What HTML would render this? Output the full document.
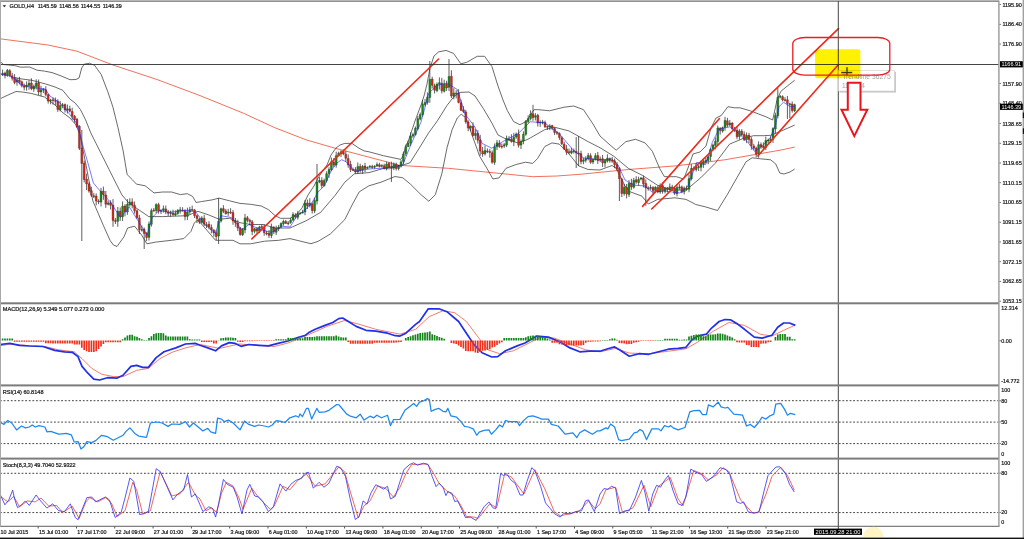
<!DOCTYPE html>
<html><head><meta charset="utf-8"><title>GOLD,H4</title>
<style>html,body{margin:0;padding:0;background:#fff;width:1024px;height:539px;overflow:hidden}</style>
</head><body>
<svg width="1024" height="539" viewBox="0 0 1024 539" style="display:block">
<rect x="0" y="0" width="1024" height="539" fill="#ffffff"/>
<g fill="none" stroke-linejoin="round">
<polyline points="0.0,38.8 48.0,45.0 77.0,51.2 113.0,65.0 157.0,79.5 200.0,95.6 243.4,113.2 274.8,127.7 306.0,139.8 335.0,148.2 376.0,159.0 400.0,165.4 448.3,168.3 472.4,170.7 508.6,174.3 532.7,176.7 556.8,176.0 580.0,174.3 628.3,169.5 676.5,165.8 724.8,159.8 780.0,150.2 794.7,147.1" stroke="#f0604a" stroke-width="0.9"/>
<polyline points="0.0,61.4 3.6,64.5 14.5,65.6 20.8,67.2 29.7,67.0 37.0,70.2 44.5,71.1 52.0,72.6 60.0,75.5 70.0,79.7 76.0,79.5 79.1,77.9 81.7,68.0 84.3,64.1 89.5,63.3 94.7,65.4 101.2,74.5 107.7,91.4 112.9,107.0 118.0,127.7 123.2,151.1 127.1,174.5 132.3,179.7 136.4,184.1 145.2,185.8 154.0,192.9 162.7,192.0 171.5,192.0 180.3,194.6 187.3,193.7 192.6,196.4 196.1,202.5 201.4,201.6 212.0,199.9 219.0,198.1 229.5,200.8 240.0,203.4 250.6,204.3 261.2,206.0 268.2,209.5 275.2,215.7 280.5,218.3 290.0,218.3 296.0,215.0 302.0,208.0 308.0,195.0 314.0,186.0 318.0,178.0 322.0,172.0 327.0,165.0 331.0,155.0 336.0,148.0 340.0,145.0 344.8,143.4 352.0,143.4 359.0,148.2 364.0,150.9 369.0,151.8 383.4,155.7 400.8,159.4 403.0,156.0 406.0,146.0 409.0,139.0 412.0,130.0 415.0,121.0 418.0,113.0 421.0,105.0 424.0,96.0 427.0,84.0 430.0,68.0 434.0,56.0 438.6,51.9 446.0,50.4 453.5,53.4 460.9,63.8 466.8,62.3 477.2,56.3 484.6,56.3 492.0,66.7 498.0,86.0 503.0,100.0 507.3,110.5 513.5,121.5 519.9,124.7 526.2,121.5 534.0,109.7 537.5,109.6 549.6,110.8 564.0,107.2 573.7,106.0 583.4,109.6 593.0,124.0 600.0,136.0 609.0,144.1 616.2,150.2 625.8,141.7 635.5,139.3 645.1,142.9 652.4,151.4 659.6,168.3 664.4,176.7 676.5,176.7 683.7,179.1 688.0,168.0 693.0,154.0 700.0,152.0 706.0,146.0 711.0,128.0 716.0,118.0 721.2,115.6 727.9,106.7 734.5,107.8 740.0,107.8 750.2,110.8 758.4,113.9 766.5,117.0 772.7,120.0 777.0,100.0 780.8,91.4 787.0,86.3 794.7,80.2" stroke="#3a3a3a" stroke-width="0.75"/>
<polyline points="14.5,77.5 22.0,79.0 31.4,80.2 45.8,84.0 55.0,87.0 62.7,90.3 70.0,99.2 75.2,103.0 80.4,109.5 85.6,119.9 90.8,132.9 96.0,143.3 101.2,153.7 109.0,169.3 116.8,184.9 122.0,195.0 127.6,201.6 134.6,206.9 148.7,216.6 162.7,216.6 187.3,215.7 197.9,211.3 208.4,214.8 219.0,219.2 229.5,218.3 240.0,222.7 250.6,224.5 262.9,224.5 275.2,228.0 290.0,228.0 306.0,220.8 320.6,212.4 335.0,195.5 344.8,182.2 354.4,173.8 369.0,172.6 385.0,168.0 395.0,166.0 403.0,165.0 410.0,162.8 419.3,148.0 428.5,133.1 437.8,120.2 447.0,105.4 454.4,96.1 460.0,92.4 469.0,92.0 475.0,96.0 483.2,108.3 492.0,123.2 498.0,135.0 507.0,139.5 518.2,143.0 527.9,139.3 544.8,129.6 554.4,127.2 568.9,130.9 588.2,141.7 600.0,147.7 613.8,156.2 628.3,168.3 642.7,175.5 657.2,185.1 671.7,190.0 686.2,190.0 700.6,177.9 715.1,163.4 729.6,144.1 744.0,138.1 753.7,135.7 763.4,135.7 770.6,135.3 780.8,131.2 794.7,125.1" stroke="#3a3a3a" stroke-width="0.75"/>
<polyline points="0.0,98.8 8.0,95.0 16.0,91.5 22.3,92.0 31.2,93.4 37.0,95.0 44.5,97.0 55.0,105.0 62.0,112.0 70.0,118.0 76.0,125.0 80.0,135.0 86.0,165.0 92.8,200.8 103.4,225.5 110.0,240.3 113.4,245.0 117.0,246.5 124.0,236.8 127.6,228.0 134.6,226.2 141.6,235.0 146.9,243.8 155.7,242.1 171.5,240.3 183.8,238.6 190.9,231.5 194.4,222.7 197.9,220.1 205.0,228.0 215.5,240.3 233.0,240.3 240.0,243.8 250.6,243.8 264.7,241.2 278.7,240.3 290.0,238.6 306.0,242.5 311.0,243.7 318.2,241.3 330.3,234.0 344.8,219.6 352.0,205.1 359.2,191.9 368.9,185.8 381.0,182.2 395.0,176.5 402.8,177.8 410.6,184.3 421.0,194.7 428.8,201.2 435.3,194.7 441.8,173.9 447.0,147.9 452.1,129.7 457.3,118.0 461.2,114.2 466.0,118.0 472.0,135.0 476.0,146.0 479.6,156.2 486.9,168.3 492.9,179.0 499.0,177.9 506.0,168.3 515.8,164.6 525.4,162.2 532.7,163.4 537.5,158.6 544.8,146.5 552.0,142.9 559.2,144.1 568.9,153.8 578.5,165.8 588.2,169.5 600.0,170.0 612.0,165.5 616.0,168.0 620.0,176.0 625.0,186.0 629.4,191.5 642.0,196.2 648.3,204.0 657.7,199.4 675.0,197.8 686.0,199.4 695.8,204.5 705.5,206.9 717.5,210.5 727.2,194.8 736.8,177.9 746.0,161.8 752.2,157.8 760.4,158.8 770.6,159.8 775.7,163.9 779.8,173.0 783.9,174.0 790.0,172.0 794.7,169.0" stroke="#3a3a3a" stroke-width="0.75"/>
</g>
<g>
<path d="M2.60 69.6V76.0M5.00 71.7V78.4M7.40 69.0V76.7M9.80 69.2V77.2M12.20 72.9V80.6M14.60 74.1V84.3M17.00 77.9V85.7M19.40 76.8V84.4M21.80 80.6V87.4M24.20 83.6V90.4M26.60 81.3V90.7M29.00 80.2V89.7M31.40 78.3V90.2M33.80 84.6V91.8M36.20 79.3V89.4M38.60 79.5V95.0M41.00 85.8V96.1M43.40 88.2V93.1M45.80 86.2V96.4M48.20 93.7V103.5M50.60 98.9V104.2M53.00 97.4V104.6M55.40 97.5V105.1M57.80 99.2V111.9M60.20 100.9V111.4M62.60 102.9V108.2M65.00 103.5V112.5M67.40 104.5V113.4M69.80 105.7V112.3M72.20 107.7V119.8M74.60 114.9V122.7M77.00 117.9V127.9M79.40 125.2V150.0M81.80 130.0V241.0M84.20 160.7V182.4M86.60 173.6V190.1M89.00 182.3V192.7M91.40 186.8V196.9M93.80 193.1V198.0M96.20 193.4V205.4M98.60 199.2V204.2M101.00 187.9V206.5M103.40 186.6V199.8M105.80 191.0V207.9M108.20 200.6V205.4M110.60 200.3V209.5M113.00 199.1V226.8M115.40 218.0V224.0M117.80 207.0V226.8M120.20 207.5V220.9M122.60 201.4V221.0M125.00 204.2V216.3M127.40 199.1V214.8M129.80 198.3V206.5M132.20 198.3V208.3M134.60 201.6V213.6M137.00 209.4V218.7M139.40 214.9V234.0M141.80 225.5V231.6M144.20 227.5V249.0M146.60 232.1V241.1M149.00 221.5V240.5M151.40 208.5V226.6M153.80 208.0V211.7M156.20 203.2V213.1M158.60 202.7V213.7M161.00 209.2V214.0M163.40 205.5V212.6M165.80 205.5V214.2M168.20 209.9V216.0M170.60 210.6V216.6M173.00 209.7V216.0M175.40 210.4V216.1M177.80 209.2V214.8M180.20 206.9V213.6M182.60 207.2V211.4M185.00 209.1V220.3M187.40 207.7V220.1M189.80 206.8V214.2M192.20 205.6V211.1M194.60 208.9V218.0M197.00 214.6V223.0M199.40 217.8V223.9M201.80 216.2V223.7M204.20 214.8V226.1M206.60 222.0V228.0M209.00 221.2V229.4M211.40 224.5V233.4M213.80 229.1V236.6M216.20 230.2V240.0M218.60 198.0V244.0M221.00 207.7V222.5M223.40 205.2V213.1M225.80 208.9V214.6M228.20 208.9V215.9M230.60 208.2V213.9M233.00 210.0V224.8M235.40 218.0V226.8M237.80 219.8V231.1M240.20 226.9V235.8M242.60 228.0V236.0M245.00 213.9V233.3M247.40 216.0V222.4M249.80 218.7V225.2M252.20 220.1V235.2M254.60 227.9V233.4M257.00 227.2V233.5M259.40 225.8V233.0M261.80 224.6V229.2M264.20 224.2V235.8M266.60 230.9V235.4M269.00 230.1V237.9M271.40 223.6V238.1M273.80 226.1V234.0M276.20 225.7V235.0M278.60 225.0V231.2M281.00 222.5V228.2M283.40 219.6V225.7M285.80 219.9V224.0M288.20 221.1V225.4M290.60 217.9V223.7M293.00 212.2V221.1M295.40 213.2V218.7M297.80 210.9V219.5M300.20 211.9V214.5M302.60 209.8V213.6M305.00 199.9V215.2M307.40 199.6V209.0M309.80 198.2V207.5M312.20 202.5V213.6M314.60 197.6V213.1M317.00 164.0V204.4M319.40 176.9V183.2M321.80 177.3V188.1M324.20 178.5V186.6M326.60 171.3V182.6M329.00 167.3V177.9M331.40 157.6V171.3M333.80 158.0V167.0M336.20 151.7V167.6M338.60 151.8V156.5M341.00 150.3V157.0M343.40 149.4V155.2M345.80 150.8V161.6M348.20 154.4V167.8M350.60 160.7V172.1M353.00 167.5V171.1M355.40 167.1V173.9M357.80 162.5V173.8M360.20 163.7V172.7M362.60 164.9V173.9M365.00 162.8V172.1M367.40 166.4V169.0M369.80 165.2V168.1M372.20 164.7V168.5M374.60 165.2V168.4M377.00 162.4V166.8M379.40 162.8V167.4M381.80 164.3V167.5M384.20 163.7V169.3M386.60 161.7V170.4M389.00 162.1V169.5M391.40 161.7V182.0M393.80 162.5V170.1M396.20 162.6V170.5M398.60 165.3V170.4M401.00 160.0V167.5M403.40 151.5V164.3M405.80 144.5V155.9M408.20 140.6V147.2M410.60 132.3V145.8M413.00 132.8V137.8M415.40 126.4V135.6M417.80 116.1V130.4M420.20 112.5V120.3M422.60 100.0V116.5M425.00 99.1V106.5M427.40 92.4V104.6M429.80 61.0V102.8M432.20 76.7V88.5M434.60 83.6V93.5M437.00 82.4V92.2M439.40 77.4V89.4M441.80 77.9V93.4M444.20 79.7V92.6M446.60 80.8V90.9M449.00 59.0V91.1M451.40 70.3V98.1M453.80 88.2V99.3M456.20 90.2V98.4M458.60 89.2V103.4M461.00 99.7V111.1M463.40 106.1V113.1M465.80 109.9V123.7M468.20 120.3V131.3M470.60 125.3V131.2M473.00 122.3V136.5M475.40 129.2V139.7M477.80 130.1V143.5M480.20 134.9V155.7M482.60 147.1V156.8M485.00 145.5V155.5M487.40 148.4V153.1M489.80 149.0V157.7M492.20 150.5V163.7M494.60 143.5V164.8M497.00 139.9V150.0M499.40 140.1V147.8M501.80 143.5V148.6M504.20 143.0V147.9M506.60 135.6V147.1M509.00 136.1V140.7M511.40 134.3V142.7M513.80 132.9V146.2M516.20 132.5V138.8M518.60 129.5V147.6M521.00 139.5V149.0M523.40 131.3V144.2M525.80 120.0V135.8M528.20 115.3V123.3M530.60 110.3V120.3M533.00 104.8V120.8M535.40 113.2V120.4M537.80 113.8V126.5M540.20 120.3V126.8M542.60 119.9V124.4M545.00 120.6V128.0M547.40 125.6V129.9M549.80 124.1V130.1M552.20 124.8V130.2M554.60 127.3V135.0M557.00 131.1V134.9M559.40 132.3V139.9M561.80 136.4V145.1M564.20 141.7V150.1M566.60 145.1V155.1M569.00 148.6V154.2M571.40 147.8V154.3M573.80 148.5V153.5M576.20 137.0V168.0M578.60 136.0V166.0M581.00 150.7V164.3M583.40 157.8V164.2M585.80 156.3V162.5M588.20 152.9V160.4M590.60 153.3V163.8M593.00 158.1V164.2M595.40 153.2V160.4M597.80 152.0V163.9M600.20 156.5V162.1M602.60 155.0V167.0M605.00 159.0V167.3M607.40 154.3V162.5M609.80 157.5V162.7M612.20 156.8V162.8M614.60 158.6V168.1M617.00 162.0V170.6M619.40 167.0V201.0M621.80 177.7V197.0M624.20 183.9V195.7M626.60 184.0V198.4M629.00 180.1V197.0M631.40 178.8V189.9M633.80 177.8V188.7M636.20 176.2V183.8M638.60 176.7V185.6M641.00 177.0V180.3M643.40 175.5V187.4M645.80 179.4V205.7M648.20 186.3V190.7M650.60 184.7V189.9M653.00 186.2V194.4M655.40 186.2V193.0M657.80 185.7V193.3M660.20 183.4V193.7M662.60 182.3V193.6M665.00 187.3V193.5M667.40 187.0V192.5M669.80 183.5V190.8M672.20 184.8V191.0M674.60 186.6V194.9M677.00 184.5V196.4M679.40 184.1V189.8M681.80 185.5V193.2M684.20 186.5V194.5M686.60 185.6V190.8M689.00 174.5V192.2M691.40 164.2V180.4M693.80 166.3V170.8M696.20 163.5V171.5M698.60 165.0V170.9M701.00 160.7V171.3M703.40 158.2V167.9M705.80 157.5V163.6M708.20 155.7V164.3M710.60 148.0V161.0M713.00 143.8V150.5M715.40 137.4V149.4M717.80 125.6V145.5M720.20 127.2V134.6M722.60 126.5V132.7M725.00 116.8V130.8M727.40 117.8V127.1M729.80 119.9V126.3M732.20 122.2V130.0M734.60 126.9V131.9M737.00 127.2V139.2M739.40 129.2V139.6M741.80 129.1V136.1M744.20 131.3V141.0M746.60 132.4V143.1M749.00 132.8V143.1M751.40 137.2V149.7M753.80 143.9V150.1M756.20 146.7V157.3M758.60 141.3V157.8M761.00 142.4V148.9M763.40 142.4V148.8M765.80 136.6V150.1M768.20 138.6V143.1M770.60 136.5V143.0M773.00 127.2V142.9M775.40 112.7V133.5M777.80 87.8V118.3M780.20 95.0V98.5M782.60 95.3V101.4M785.00 97.2V101.5M787.40 95.9V119.0M789.80 102.8V118.0M792.20 101.4V112.6M794.60 103.7V112.1" stroke="#2a2a2a" stroke-width="0.75" fill="none"/>
<path d="M4.05 73.0h1.9v2.4h-1.9zM8.85 70.7h1.9v4.7h-1.9zM11.25 75.8h1.9v2.5h-1.9zM13.65 77.8h1.9v4.7h-1.9zM18.45 79.9h1.9v2.3h-1.9zM20.85 81.8h1.9v4.0h-1.9zM23.25 85.7h1.9v1.6h-1.9zM30.45 83.0h1.9v5.7h-1.9zM37.65 82.9h1.9v9.0h-1.9zM44.85 89.8h1.9v4.7h-1.9zM47.25 94.7h1.9v6.4h-1.9zM52.05 99.7h1.9v0.8h-1.9zM54.45 100.5h1.9v0.8h-1.9zM56.85 101.3h1.9v8.1h-1.9zM64.05 104.6h1.9v5.4h-1.9zM68.85 108.9h1.9v2.3h-1.9zM71.25 111.5h1.9v4.8h-1.9zM73.65 116.2h1.9v3.5h-1.9zM76.05 119.3h1.9v7.5h-1.9zM78.45 126.3h1.9v22.0h-1.9zM80.85 148.1h1.9v15.4h-1.9zM83.25 163.2h1.9v16.3h-1.9zM85.65 179.1h1.9v4.8h-1.9zM88.05 183.9h1.9v7.2h-1.9zM90.45 190.8h1.9v4.4h-1.9zM92.85 195.7h1.9v0.9h-1.9zM95.25 196.1h1.9v4.9h-1.9zM97.65 201.2h1.9v0.8h-1.9zM102.45 191.0h1.9v3.6h-1.9zM104.85 194.9h1.9v9.3h-1.9zM109.65 202.7h1.9v2.5h-1.9zM112.05 205.1h1.9v15.5h-1.9zM114.45 220.4h1.9v1.1h-1.9zM119.25 211.3h1.9v5.3h-1.9zM124.05 206.1h1.9v5.6h-1.9zM131.25 201.9h1.9v3.2h-1.9zM133.65 205.4h1.9v5.4h-1.9zM136.05 210.8h1.9v7.0h-1.9zM138.45 217.9h1.9v11.5h-1.9zM143.25 229.3h1.9v4.1h-1.9zM145.65 233.4h1.9v4.0h-1.9zM152.85 210.2h1.9v0.8h-1.9zM157.65 204.7h1.9v6.5h-1.9zM164.85 208.9h1.9v3.1h-1.9zM167.25 212.1h1.9v1.2h-1.9zM172.05 213.0h1.9v1.5h-1.9zM181.65 210.0h1.9v0.8h-1.9zM184.05 210.7h1.9v5.7h-1.9zM191.25 209.5h1.9v0.8h-1.9zM193.65 209.9h1.9v5.9h-1.9zM196.05 215.8h1.9v2.7h-1.9zM198.45 219.0h1.9v3.1h-1.9zM203.25 218.4h1.9v5.9h-1.9zM205.65 224.8h1.9v0.8h-1.9zM208.05 224.3h1.9v2.8h-1.9zM210.45 227.5h1.9v2.3h-1.9zM212.85 230.2h1.9v2.6h-1.9zM215.25 232.7h1.9v3.8h-1.9zM222.45 208.6h1.9v2.7h-1.9zM224.85 211.0h1.9v2.7h-1.9zM229.65 212.2h1.9v0.8h-1.9zM232.05 212.6h1.9v8.5h-1.9zM234.45 221.1h1.9v1.6h-1.9zM236.85 223.0h1.9v5.1h-1.9zM239.25 227.9h1.9v6.5h-1.9zM246.45 217.7h1.9v2.6h-1.9zM248.85 220.2h1.9v1.4h-1.9zM251.25 221.7h1.9v9.7h-1.9zM256.05 228.8h1.9v2.2h-1.9zM260.85 226.5h1.9v1.0h-1.9zM263.25 227.6h1.9v5.1h-1.9zM265.65 233.1h1.9v0.8h-1.9zM268.05 233.2h1.9v2.0h-1.9zM272.85 227.3h1.9v4.5h-1.9zM284.85 221.6h1.9v1.7h-1.9zM294.45 215.0h1.9v2.0h-1.9zM306.45 202.9h1.9v2.9h-1.9zM311.25 203.8h1.9v6.7h-1.9zM320.85 180.5h1.9v4.9h-1.9zM332.85 162.1h1.9v3.0h-1.9zM342.45 151.6h1.9v2.3h-1.9zM344.85 154.3h1.9v3.9h-1.9zM347.25 158.6h1.9v6.3h-1.9zM349.65 164.5h1.9v4.9h-1.9zM352.05 169.5h1.9v0.8h-1.9zM354.45 169.6h1.9v2.2h-1.9zM359.25 166.4h1.9v4.0h-1.9zM364.05 166.1h1.9v2.4h-1.9zM371.25 166.6h1.9v0.8h-1.9zM378.45 164.7h1.9v1.8h-1.9zM383.25 165.8h1.9v3.0h-1.9zM388.05 163.5h1.9v3.5h-1.9zM390.45 167.3h1.9v1.1h-1.9zM395.25 164.4h1.9v4.1h-1.9zM431.25 79.1h1.9v6.2h-1.9zM433.65 85.7h1.9v4.5h-1.9zM440.85 83.2h1.9v7.6h-1.9zM445.65 84.1h1.9v3.8h-1.9zM450.45 76.2h1.9v19.7h-1.9zM455.25 93.0h1.9v0.8h-1.9zM457.65 93.1h1.9v9.3h-1.9zM460.05 102.7h1.9v7.5h-1.9zM462.45 109.7h1.9v1.8h-1.9zM464.85 111.9h1.9v10.0h-1.9zM467.25 122.1h1.9v6.0h-1.9zM472.05 126.3h1.9v9.2h-1.9zM476.85 133.2h1.9v7.0h-1.9zM479.25 139.9h1.9v11.2h-1.9zM481.65 151.3h1.9v2.6h-1.9zM486.45 150.9h1.9v0.8h-1.9zM488.85 151.6h1.9v0.8h-1.9zM491.25 152.7h1.9v9.6h-1.9zM498.45 143.2h1.9v3.3h-1.9zM500.85 146.3h1.9v0.8h-1.9zM510.45 139.0h1.9v2.3h-1.9zM517.65 134.1h1.9v11.1h-1.9zM532.05 113.7h1.9v3.9h-1.9zM536.85 115.3h1.9v7.7h-1.9zM544.05 122.4h1.9v4.3h-1.9zM546.45 126.4h1.9v0.8h-1.9zM551.25 125.6h1.9v2.3h-1.9zM553.65 128.4h1.9v4.0h-1.9zM556.05 132.4h1.9v0.8h-1.9zM558.45 133.6h1.9v3.9h-1.9zM560.85 137.9h1.9v5.8h-1.9zM563.25 144.2h1.9v4.8h-1.9zM565.65 148.9h1.9v3.3h-1.9zM568.05 151.8h1.9v0.8h-1.9zM572.85 150.8h1.9v0.8h-1.9zM575.25 151.3h1.9v1.7h-1.9zM577.65 153.0h1.9v0.9h-1.9zM580.05 153.6h1.9v8.0h-1.9zM589.65 155.7h1.9v6.6h-1.9zM596.85 155.4h1.9v5.1h-1.9zM601.65 158.7h1.9v4.1h-1.9zM608.85 158.6h1.9v2.0h-1.9zM611.25 160.3h1.9v0.9h-1.9zM613.65 160.8h1.9v3.9h-1.9zM616.05 164.5h1.9v4.3h-1.9zM618.45 168.4h1.9v10.3h-1.9zM620.85 179.2h1.9v14.2h-1.9zM625.65 187.2h1.9v6.8h-1.9zM630.45 183.1h1.9v3.8h-1.9zM635.25 179.8h1.9v2.3h-1.9zM642.45 177.9h1.9v5.9h-1.9zM644.85 183.5h1.9v4.5h-1.9zM647.25 187.8h1.9v0.8h-1.9zM652.05 187.4h1.9v3.2h-1.9zM656.85 187.6h1.9v4.3h-1.9zM661.65 185.6h1.9v5.2h-1.9zM666.45 187.9h1.9v1.7h-1.9zM671.25 187.0h1.9v1.5h-1.9zM673.65 188.2h1.9v5.1h-1.9zM680.85 186.9h1.9v5.3h-1.9zM685.65 188.5h1.9v0.8h-1.9zM692.85 168.1h1.9v1.0h-1.9zM697.65 166.7h1.9v0.8h-1.9zM719.25 128.3h1.9v2.3h-1.9zM726.45 120.8h1.9v4.4h-1.9zM731.25 123.1h1.9v5.4h-1.9zM733.65 128.7h1.9v1.6h-1.9zM736.05 130.3h1.9v6.5h-1.9zM740.85 131.3h1.9v3.4h-1.9zM743.25 134.3h1.9v5.5h-1.9zM748.05 135.3h1.9v4.2h-1.9zM750.45 139.5h1.9v6.0h-1.9zM752.85 146.0h1.9v2.2h-1.9zM755.25 148.2h1.9v5.6h-1.9zM760.05 144.6h1.9v2.1h-1.9zM762.45 146.2h1.9v1.6h-1.9zM781.65 96.7h1.9v3.3h-1.9zM784.05 99.8h1.9v0.8h-1.9zM786.45 99.8h1.9v3.8h-1.9zM791.25 104.1h1.9v6.5h-1.9z" fill="#d42a1c" stroke="#5a1a10" stroke-width="0.35"/>
<path d="M1.65 73.2h1.9v1.5h-1.9zM6.45 70.3h1.9v5.0h-1.9zM16.05 79.8h1.9v2.3h-1.9zM25.65 85.2h1.9v1.8h-1.9zM28.05 83.3h1.9v2.1h-1.9zM32.85 86.2h1.9v2.8h-1.9zM35.25 83.1h1.9v3.3h-1.9zM40.05 89.7h1.9v2.2h-1.9zM42.45 89.3h1.9v0.8h-1.9zM49.65 100.0h1.9v0.8h-1.9zM59.25 105.6h1.9v4.1h-1.9zM61.65 104.8h1.9v0.8h-1.9zM66.45 108.8h1.9v1.2h-1.9zM100.05 191.3h1.9v10.7h-1.9zM107.25 202.9h1.9v1.4h-1.9zM116.85 211.3h1.9v9.9h-1.9zM121.65 206.2h1.9v10.6h-1.9zM126.45 204.3h1.9v7.7h-1.9zM128.85 202.2h1.9v2.6h-1.9zM140.85 229.5h1.9v0.8h-1.9zM148.05 223.9h1.9v13.4h-1.9zM150.45 210.7h1.9v13.6h-1.9zM155.25 204.6h1.9v6.0h-1.9zM160.05 210.4h1.9v1.0h-1.9zM162.45 208.7h1.9v1.5h-1.9zM169.65 212.6h1.9v0.8h-1.9zM174.45 213.4h1.9v1.5h-1.9zM176.85 210.2h1.9v3.2h-1.9zM179.25 209.8h1.9v0.8h-1.9zM186.45 212.0h1.9v4.3h-1.9zM188.85 209.6h1.9v2.3h-1.9zM200.85 218.0h1.9v4.4h-1.9zM217.65 221.3h1.9v14.8h-1.9zM220.05 208.8h1.9v12.2h-1.9zM227.25 212.2h1.9v0.9h-1.9zM241.65 229.6h1.9v5.1h-1.9zM244.05 217.9h1.9v12.0h-1.9zM253.65 228.8h1.9v2.4h-1.9zM258.45 227.0h1.9v3.8h-1.9zM270.45 227.0h1.9v8.5h-1.9zM275.25 228.5h1.9v3.7h-1.9zM277.65 227.3h1.9v1.6h-1.9zM280.05 223.4h1.9v3.4h-1.9zM282.45 221.4h1.9v2.3h-1.9zM287.25 222.9h1.9v0.8h-1.9zM289.65 220.2h1.9v2.2h-1.9zM292.05 214.6h1.9v5.4h-1.9zM296.85 213.6h1.9v3.7h-1.9zM299.25 213.0h1.9v0.8h-1.9zM301.65 212.1h1.9v0.8h-1.9zM304.05 203.1h1.9v8.8h-1.9zM308.85 203.3h1.9v2.2h-1.9zM313.65 200.6h1.9v10.2h-1.9zM316.05 182.0h1.9v19.1h-1.9zM318.45 180.5h1.9v1.5h-1.9zM323.25 180.6h1.9v5.2h-1.9zM325.65 173.8h1.9v6.8h-1.9zM328.05 169.6h1.9v4.0h-1.9zM330.45 161.8h1.9v8.0h-1.9zM335.25 155.7h1.9v9.2h-1.9zM337.65 153.3h1.9v2.3h-1.9zM340.05 151.8h1.9v1.9h-1.9zM356.85 166.6h1.9v5.4h-1.9zM361.65 166.4h1.9v3.7h-1.9zM366.45 167.5h1.9v0.8h-1.9zM368.85 166.2h1.9v0.9h-1.9zM373.65 166.3h1.9v0.9h-1.9zM376.05 164.6h1.9v1.5h-1.9zM380.85 165.4h1.9v0.9h-1.9zM385.65 164.0h1.9v5.0h-1.9zM392.85 164.2h1.9v3.9h-1.9zM397.65 165.9h1.9v2.7h-1.9zM400.05 161.9h1.9v4.4h-1.9zM402.45 154.0h1.9v7.6h-1.9zM404.85 146.7h1.9v6.9h-1.9zM407.25 143.0h1.9v3.4h-1.9zM409.65 136.1h1.9v6.9h-1.9zM412.05 134.5h1.9v1.6h-1.9zM414.45 128.3h1.9v6.3h-1.9zM416.85 118.7h1.9v9.8h-1.9zM419.25 114.5h1.9v4.6h-1.9zM421.65 104.2h1.9v10.3h-1.9zM424.05 102.6h1.9v1.9h-1.9zM426.45 97.2h1.9v5.2h-1.9zM428.85 79.4h1.9v18.0h-1.9zM436.05 84.3h1.9v6.3h-1.9zM438.45 82.7h1.9v1.6h-1.9zM443.25 84.2h1.9v7.0h-1.9zM448.05 76.5h1.9v10.8h-1.9zM452.85 93.0h1.9v3.2h-1.9zM469.65 126.2h1.9v1.6h-1.9zM474.45 133.4h1.9v2.0h-1.9zM484.05 150.6h1.9v3.2h-1.9zM493.65 146.9h1.9v15.4h-1.9zM496.05 142.8h1.9v4.0h-1.9zM503.25 144.7h1.9v1.4h-1.9zM505.65 138.4h1.9v6.7h-1.9zM508.05 138.9h1.9v0.8h-1.9zM512.85 137.2h1.9v4.4h-1.9zM515.25 134.0h1.9v3.0h-1.9zM520.05 141.5h1.9v3.6h-1.9zM522.45 134.3h1.9v6.8h-1.9zM524.85 121.4h1.9v12.8h-1.9zM527.25 118.7h1.9v2.8h-1.9zM529.65 114.0h1.9v4.6h-1.9zM534.45 115.7h1.9v1.5h-1.9zM539.25 122.2h1.9v0.8h-1.9zM541.65 121.9h1.9v0.8h-1.9zM548.85 126.0h1.9v1.0h-1.9zM570.45 150.9h1.9v2.2h-1.9zM582.45 160.0h1.9v1.3h-1.9zM584.85 158.6h1.9v1.6h-1.9zM587.25 155.4h1.9v3.3h-1.9zM592.05 159.5h1.9v2.5h-1.9zM594.45 155.8h1.9v3.6h-1.9zM599.25 159.1h1.9v0.9h-1.9zM604.05 160.6h1.9v2.5h-1.9zM606.45 158.2h1.9v2.9h-1.9zM623.25 187.2h1.9v6.3h-1.9zM628.05 183.4h1.9v11.1h-1.9zM632.85 180.2h1.9v7.0h-1.9zM637.65 179.5h1.9v3.0h-1.9zM640.05 178.0h1.9v1.1h-1.9zM649.65 187.5h1.9v0.8h-1.9zM654.45 187.3h1.9v3.0h-1.9zM659.25 185.7h1.9v6.3h-1.9zM664.05 188.2h1.9v3.1h-1.9zM668.85 186.9h1.9v2.8h-1.9zM676.05 187.4h1.9v6.3h-1.9zM678.45 186.9h1.9v0.9h-1.9zM683.25 188.2h1.9v3.6h-1.9zM688.05 178.6h1.9v10.6h-1.9zM690.45 168.5h1.9v10.2h-1.9zM695.25 166.8h1.9v2.7h-1.9zM700.05 163.8h1.9v3.4h-1.9zM702.45 161.5h1.9v2.7h-1.9zM704.85 160.3h1.9v1.4h-1.9zM707.25 156.9h1.9v3.5h-1.9zM709.65 149.5h1.9v6.9h-1.9zM712.05 145.1h1.9v4.0h-1.9zM714.45 141.3h1.9v3.9h-1.9zM716.85 127.9h1.9v13.5h-1.9zM721.65 127.7h1.9v3.4h-1.9zM724.05 120.5h1.9v6.8h-1.9zM728.85 123.1h1.9v1.7h-1.9zM738.45 131.1h1.9v5.5h-1.9zM745.65 135.3h1.9v4.2h-1.9zM757.65 144.7h1.9v9.3h-1.9zM764.85 140.5h1.9v7.1h-1.9zM767.25 140.1h1.9v0.8h-1.9zM769.65 139.4h1.9v1.0h-1.9zM772.05 128.6h1.9v10.6h-1.9zM774.45 115.6h1.9v13.3h-1.9zM776.85 97.2h1.9v18.5h-1.9zM779.25 96.3h1.9v0.8h-1.9zM788.85 103.8h1.9v0.8h-1.9zM793.65 104.7h1.9v6.0h-1.9z" fill="#1c8a1c" stroke="#0c3a0c" stroke-width="0.35"/>
</g>
<polyline points="0.0,74.0 10.0,76.0 14.0,78.0 20.0,84.0 30.0,87.0 45.0,89.0 50.0,96.0 60.0,103.0 70.0,114.7 77.8,125.0 83.0,146.0 88.2,164.0 93.4,183.0 101.0,192.0 110.0,201.6 120.5,217.5 129.3,206.9 147.0,235.0 152.2,217.5 159.2,210.4 169.8,212.2 187.3,210.4 196.0,212.2 205.0,224.5 215.5,233.3 220.7,215.7 231.3,217.5 241.8,229.8 248.9,224.5 261.2,229.8 271.7,232.4 282.3,226.2 290.0,227.0 296.0,217.3 305.5,209.4 311.8,203.0 318.0,192.0 324.4,185.7 330.7,171.5 337.0,162.9 341.7,159.7 346.5,162.0 354.4,171.4 369.0,169.0 395.0,167.4 402.8,164.8 410.6,145.3 421.0,122.0 428.8,93.4 436.6,85.6 447.0,83.0 457.3,89.5 465.1,114.2 475.0,127.1 482.0,143.4 491.7,148.2 506.0,139.8 518.0,133.7 530.3,121.7 544.8,122.9 559.2,133.7 573.7,150.6 583.4,157.9 600.0,160.0 612.0,159.0 618.0,165.0 625.0,180.0 633.0,185.0 645.0,186.0 652.0,192.0 665.0,191.0 680.0,193.0 688.0,186.0 696.7,162.4 705.6,164.6 712.3,142.4 719.0,129.0 730.0,126.8 739.0,133.5 747.9,142.4 754.6,151.3 761.3,146.8 770.2,137.9 775.7,124.5 779.0,106.7 783.5,102.3 790.2,106.7 794.7,106.7" fill="none" stroke="#2020ff" stroke-width="0.6" stroke-linejoin="round"/>
<g stroke="#ee2a1a" stroke-width="1.6" fill="none" stroke-linecap="round">
<line x1="251.9" y1="238.9" x2="438.6" y2="59"/>
<line x1="642.6" y1="206.4" x2="719.5" y2="118.5"/>
<line x1="651.7" y1="209" x2="838.5" y2="28.6"/>
<line x1="757.8" y1="156" x2="838.5" y2="64.5"/>
</g>
<polyline points="0.0,345.9 9.8,344.0 29.3,345.7 45.0,346.5 58.6,349.8 74.2,351.8 82.0,358.6 91.8,368.4 101.6,374.2 113.3,376.6 123.0,376.6 136.7,370.3 148.4,368.4 160.0,358.6 171.9,352.3 185.5,347.9 200.0,344.5 219.5,348.4 239.0,344.0 258.6,345.3 274.2,346.5 287.9,343.0 307.4,335.2 327.0,326.4 344.5,320.5 356.2,323.4 375.8,329.3 400.0,334.2 415.6,329.3 429.3,316.6 443.0,310.7 454.7,312.7 466.4,321.5 478.1,337.1 487.9,349.8 499.6,353.7 513.3,350.8 527.0,344.0 540.6,337.1 554.3,338.1 570.0,344.0 585.5,349.8 600.0,351.8 615.6,348.4 629.3,353.1 648.8,353.7 668.4,351.2 686.0,348.8 697.7,342.0 713.3,331.2 728.9,322.5 744.5,325.4 760.2,334.2 771.9,336.1 783.6,330.3 795.3,325.0" fill="none" stroke="#ef5a48" stroke-width="0.8" stroke-linejoin="round"/>
<polyline points="0.0,344.5 9.8,343.4 19.5,345.3 29.3,346.0 43.0,346.5 54.7,350.4 64.5,351.8 72.3,352.3 78.0,356.6 82.0,366.4 87.9,373.2 93.8,379.1 99.6,380.0 107.4,377.7 117.2,378.1 123.0,375.2 130.9,366.4 136.7,365.4 142.6,367.4 148.4,367.4 156.2,357.6 164.0,351.8 175.8,347.9 185.5,344.0 195.3,343.4 200.0,345.3 207.8,347.9 215.6,350.8 221.5,345.9 229.3,342.6 235.2,343.4 241.0,346.3 248.8,344.5 258.6,345.3 268.4,345.9 278.0,343.4 287.9,341.0 297.7,337.5 305.5,335.2 309.4,332.2 315.2,329.3 325.0,325.4 332.8,322.5 338.7,318.6 342.6,318.0 348.4,321.5 356.2,326.4 366.0,330.3 375.8,331.2 387.5,333.2 395.3,335.7 400.0,336.1 405.9,333.2 415.6,324.4 419.5,321.5 428.3,308.8 439.0,308.8 446.9,311.7 458.6,321.5 466.4,333.2 474.2,344.9 482.0,352.7 491.8,357.0 497.7,356.6 505.5,350.8 517.2,345.9 525.0,343.0 536.7,336.1 548.4,337.1 560.2,342.0 570.0,347.9 579.7,351.8 589.5,351.2 600.0,351.2 607.8,348.8 614.6,346.9 619.5,349.8 629.3,356.2 639.0,353.7 648.8,354.3 658.6,351.8 668.4,349.2 678.1,348.4 686.0,347.3 691.8,340.0 697.7,336.1 706.4,334.2 711.3,328.3 719.1,321.5 725.0,319.5 730.9,319.9 736.7,323.4 744.5,329.3 754.3,337.1 762.1,338.1 771.9,335.2 777.7,327.3 783.6,323.0 789.5,323.0 795.3,325.4" fill="none" stroke="#2030e8" stroke-width="1.7" stroke-linejoin="round"/>
<path d="M2.60 340.6V338.5M5.00 340.6V338.5M7.40 340.6V338.5M9.80 340.6V338.5M12.20 340.6V338.5M122.60 340.6V339.2M125.00 340.6V337.5M127.40 340.6V335.5M129.80 340.6V334.8M132.20 340.6V334.8M134.60 340.6V336.2M137.00 340.6V336.8M139.40 340.6V338.1M141.80 340.6V339.3M144.20 340.6V339.9M146.60 340.6V340.1M149.00 340.6V338.0M151.40 340.6V336.2M153.80 340.6V334.0M156.20 340.6V333.3M158.60 340.6V332.9M161.00 340.6V332.9M163.40 340.6V333.3M165.80 340.6V335.5M168.20 340.6V336.5M170.60 340.6V336.5M173.00 340.6V336.5M175.40 340.6V336.5M177.80 340.6V336.5M180.20 340.6V336.5M182.60 340.6V336.5M185.00 340.6V336.5M187.40 340.6V336.5M189.80 340.6V339.2M192.20 340.6V339.4M194.60 340.6V339.5M197.00 340.6V339.5M199.40 340.6V339.5M218.60 340.6V340.2M221.00 340.6V338.3M223.40 340.6V337.9M225.80 340.6V337.6M228.20 340.6V337.5M230.60 340.6V337.5M233.00 340.6V337.7M235.40 340.6V338.1M276.20 340.6V339.2M278.60 340.6V339.2M281.00 340.6V339.2M283.40 340.6V339.2M285.80 340.6V339.2M288.20 340.6V337.7M290.60 340.6V337.9M293.00 340.6V338.1M295.40 340.6V338.3M297.80 340.6V338.3M300.20 340.6V338.3M302.60 340.6V338.3M305.00 340.6V336.9M307.40 340.6V336.9M309.80 340.6V336.9M312.20 340.6V336.9M314.60 340.6V336.8M317.00 340.6V336.2M319.40 340.6V336.2M321.80 340.6V336.2M324.20 340.6V336.2M326.60 340.6V336.2M329.00 340.6V336.2M331.40 340.6V336.2M333.80 340.6V336.2M336.20 340.6V335.5M338.60 340.6V336.4M341.00 340.6V337.3M343.40 340.6V337.4M345.80 340.6V337.5M403.40 340.6V340.2M405.80 340.6V338.0M408.20 340.6V337.0M410.60 340.6V336.2M413.00 340.6V335.2M415.40 340.6V334.4M417.80 340.6V333.8M420.20 340.6V332.9M422.60 340.6V332.7M425.00 340.6V332.6M427.40 340.6V332.2M429.80 340.6V331.6M432.20 340.6V334.3M434.60 340.6V334.9M437.00 340.6V336.1M439.40 340.6V337.0M441.80 340.6V337.8M444.20 340.6V338.8M504.20 340.6V338.1M506.60 340.6V338.1M509.00 340.6V338.1M511.40 340.6V338.1M513.80 340.6V338.1M516.20 340.6V338.1M518.60 340.6V338.1M521.00 340.6V338.1M523.40 340.6V338.1M525.80 340.6V337.3M528.20 340.6V336.2M530.60 340.6V335.8M533.00 340.6V335.6M535.40 340.6V335.7M537.80 340.6V335.8M540.20 340.6V336.4M542.60 340.6V337.1M545.00 340.6V337.4M547.40 340.6V338.5M549.80 340.6V339.5M602.60 340.6V340.1M605.00 340.6V340.0M607.40 340.6V340.0M609.80 340.6V339.3M612.20 340.6V338.6M614.60 340.6V338.6M617.00 340.6V339.8M655.40 340.6V340.0M657.80 340.6V340.0M660.20 340.6V340.0M662.60 340.6V340.0M665.00 340.6V338.8M667.40 340.6V338.8M669.80 340.6V338.8M672.20 340.6V338.8M674.60 340.6V338.8M677.00 340.6V338.8M679.40 340.6V339.8M681.80 340.6V339.7M684.20 340.6V339.6M686.60 340.6V339.5M689.00 340.6V336.4M691.40 340.6V335.8M693.80 340.6V335.1M696.20 340.6V334.6M698.60 340.6V334.6M701.00 340.6V334.6M703.40 340.6V336.3M705.80 340.6V336.3M708.20 340.6V334.6M710.60 340.6V334.5M713.00 340.6V334.4M715.40 340.6V334.3M717.80 340.6V333.4M720.20 340.6V333.4M722.60 340.6V333.7M725.00 340.6V334.5M727.40 340.6V335.4M729.80 340.6V336.5M732.20 340.6V337.6M734.60 340.6V339.3M775.40 340.6V336.9M777.80 340.6V334.5M780.20 340.6V334.1M782.60 340.6V334.1M785.00 340.6V334.1M787.40 340.6V336.7M789.80 340.6V336.7M792.20 340.6V339.2M794.60 340.6V339.2" stroke="#14841a" stroke-width="1.7" fill="none"/>
<path d="M14.60 340.6V341.8M17.00 340.6V341.8M19.40 340.6V341.8M21.80 340.6V341.8M24.20 340.6V341.8M26.60 340.6V341.8M29.00 340.6V341.8M31.40 340.6V341.8M33.80 340.6V341.8M36.20 340.6V341.8M38.60 340.6V341.8M41.00 340.6V341.8M43.40 340.6V341.8M45.80 340.6V343.3M48.20 340.6V343.3M50.60 340.6V343.3M53.00 340.6V343.4M55.40 340.6V343.4M57.80 340.6V343.4M60.20 340.6V343.4M62.60 340.6V343.4M65.00 340.6V343.4M67.40 340.6V343.5M69.80 340.6V343.5M72.20 340.6V343.5M74.60 340.6V344.5M77.00 340.6V344.5M79.40 340.6V344.5M81.80 340.6V347.8M84.20 340.6V350.1M86.60 340.6V351.2M89.00 340.6V351.9M91.40 340.6V351.9M93.80 340.6V351.9M96.20 340.6V351.2M98.60 340.6V348.9M101.00 340.6V346.5M103.40 340.6V344.1M105.80 340.6V342.3M108.20 340.6V342.3M110.60 340.6V342.3M113.00 340.6V342.3M115.40 340.6V342.3M117.80 340.6V342.3M120.20 340.6V342.3M201.80 340.6V342.1M204.20 340.6V342.1M206.60 340.6V342.1M209.00 340.6V342.1M211.40 340.6V342.1M213.80 340.6V343.6M216.20 340.6V343.6M237.80 340.6V341.7M240.20 340.6V342.0M242.60 340.6V342.0M245.00 340.6V341.2M247.40 340.6V341.2M249.80 340.6V341.2M252.20 340.6V341.2M254.60 340.6V341.1M257.00 340.6V341.1M259.40 340.6V341.1M261.80 340.6V341.1M264.20 340.6V341.1M266.60 340.6V341.1M269.00 340.6V341.0M271.40 340.6V341.0M273.80 340.6V341.0M348.20 340.6V341.9M350.60 340.6V343.7M353.00 340.6V343.7M355.40 340.6V343.7M357.80 340.6V343.7M360.20 340.6V343.7M362.60 340.6V343.7M365.00 340.6V343.7M367.40 340.6V343.7M369.80 340.6V343.7M372.20 340.6V343.7M374.60 340.6V342.7M377.00 340.6V342.7M379.40 340.6V342.7M381.80 340.6V342.7M384.20 340.6V342.7M386.60 340.6V342.7M389.00 340.6V342.7M391.40 340.6V342.7M393.80 340.6V342.7M396.20 340.6V342.6M398.60 340.6V342.3M401.00 340.6V342.1M451.40 340.6V342.9M453.80 340.6V343.5M456.20 340.6V344.1M458.60 340.6V345.4M461.00 340.6V347.1M463.40 340.6V348.5M465.80 340.6V351.0M468.20 340.6V351.2M470.60 340.6V351.2M473.00 340.6V351.2M475.40 340.6V352.6M477.80 340.6V353.0M480.20 340.6V351.9M482.60 340.6V350.8M485.00 340.6V350.6M487.40 340.6V350.1M489.80 340.6V349.3M492.20 340.6V347.4M494.60 340.6V346.7M497.00 340.6V345.0M499.40 340.6V343.4M501.80 340.6V342.3M552.20 340.6V342.7M554.60 340.6V342.7M557.00 340.6V342.7M559.40 340.6V344.2M561.80 340.6V344.4M564.20 340.6V344.6M566.60 340.6V345.3M569.00 340.6V345.3M571.40 340.6V345.4M573.80 340.6V345.4M576.20 340.6V345.4M578.60 340.6V345.4M581.00 340.6V345.5M583.40 340.6V345.0M585.80 340.6V342.7M588.20 340.6V341.8M590.60 340.6V341.7M593.00 340.6V341.6M595.40 340.6V341.5M597.80 340.6V341.4M600.20 340.6V341.3M619.40 340.6V343.1M621.80 340.6V343.3M624.20 340.6V343.5M626.60 340.6V344.2M629.00 340.6V344.1M631.40 340.6V344.0M633.80 340.6V342.7M636.20 340.6V342.2M638.60 340.6V341.7M641.00 340.6V341.0M643.40 340.6V341.0M645.80 340.6V341.0M648.20 340.6V341.0M650.60 340.6V341.0M653.00 340.6V341.0M737.00 340.6V342.3M739.40 340.6V342.4M741.80 340.6V342.4M744.20 340.6V342.5M746.60 340.6V345.1M749.00 340.6V345.3M751.40 340.6V347.0M753.80 340.6V347.1M756.20 340.6V347.1M758.60 340.6V347.2M761.00 340.6V343.7M763.40 340.6V343.6M765.80 340.6V343.5M768.20 340.6V342.2M770.60 340.6V342.1" stroke="#f0301a" stroke-width="1.7" fill="none"/>
<g stroke="#404040" stroke-width="1" stroke-dasharray="1.8 1.8">
<line x1="0" y1="400.7" x2="998" y2="400.7"/>
<line x1="0" y1="422.1" x2="998" y2="422.1"/>
<line x1="0" y1="443.6" x2="998" y2="443.6"/>
<line x1="0" y1="473.3" x2="998" y2="473.3"/>
<line x1="0" y1="512.6" x2="998" y2="512.6"/>
</g>
<polyline points="0.0,422.0 3.9,424.4 7.8,420.5 11.7,423.0 16.6,429.9 21.5,426.0 25.4,427.9 29.3,427.0 32.2,425.0 35.2,427.0 39.0,425.6 44.9,427.0 46.9,431.8 50.8,431.4 58.6,434.2 62.5,433.8 66.4,433.4 71.3,434.8 74.2,442.0 78.1,441.6 81.0,449.0 84.0,446.5 86.9,441.6 91.8,442.6 95.7,440.6 101.6,435.3 107.4,436.7 113.3,440.2 117.2,438.3 123.0,435.3 126.0,431.4 129.9,427.9 134.8,433.4 138.7,436.1 146.5,437.3 150.4,423.0 156.2,422.0 162.1,423.0 168.0,426.4 171.9,424.0 179.7,424.4 185.5,421.7 189.5,427.0 193.4,423.0 200.0,428.5 202.9,430.9 207.8,428.3 210.7,431.8 215.6,433.4 217.6,418.2 221.5,419.1 224.4,421.7 228.3,420.1 233.2,423.0 240.0,429.9 244.5,421.1 248.8,424.4 254.7,426.4 258.6,425.0 264.5,426.0 268.4,427.0 272.3,425.0 276.2,420.7 280.0,421.1 285.0,422.5 289.8,417.8 295.7,415.8 298.6,417.2 300.0,413.9 302.5,416.6 306.4,408.4 308.4,408.4 311.7,419.1 316.8,408.4 319.1,412.3 325.0,411.9 328.9,410.3 336.7,404.5 339.0,404.9 341.6,408.0 346.5,413.9 350.4,416.2 356.2,417.8 360.2,414.2 364.0,420.1 370.0,416.2 373.8,417.8 376.8,415.2 381.6,417.8 387.5,415.2 390.4,425.6 393.4,419.7 400.0,419.4 404.9,410.3 409.8,406.4 413.7,403.5 416.6,406.4 419.5,402.1 423.4,401.0 427.3,398.6 429.3,399.6 431.2,411.3 435.2,409.4 439.0,408.4 443.0,411.3 445.9,411.9 447.9,408.4 450.8,415.8 456.6,417.2 460.5,421.1 464.5,426.4 468.4,427.0 473.2,428.9 476.8,435.3 479.1,432.2 484.0,430.3 488.9,429.9 491.4,434.2 495.7,429.9 499.6,425.0 502.5,427.0 505.5,420.5 509.4,421.7 517.2,421.7 519.5,425.6 523.0,421.1 528.0,416.6 532.8,415.8 538.7,417.8 541.6,419.1 548.4,419.1 551.4,424.4 558.2,426.0 565.0,434.2 572.9,432.8 576.8,437.7 579.7,432.8 584.6,429.9 592.4,434.2 597.3,430.9 600.0,430.9 605.9,427.9 607.8,428.9 610.7,424.0 614.6,427.0 618.6,439.6 621.5,440.6 629.3,439.2 634.2,432.8 637.1,432.2 640.0,429.5 643.0,431.4 646.5,439.6 651.8,428.9 658.6,428.9 660.9,430.9 664.5,425.6 668.4,427.0 670.7,425.6 673.2,427.9 678.1,429.9 685.0,427.5 689.8,411.9 693.8,410.7 699.6,410.3 702.5,414.6 706.4,414.6 708.4,404.9 713.3,406.8 718.2,402.1 721.1,406.8 725.0,408.0 727.9,407.4 733.8,414.2 738.7,414.6 742.6,415.2 746.5,426.0 750.4,424.4 754.3,427.5 758.2,423.0 762.1,417.2 766.0,419.1 769.9,415.8 773.8,414.2 775.8,404.1 780.7,403.3 784.6,409.4 787.5,415.2 790.4,413.3 795.3,414.6" fill="none" stroke="#1e88f0" stroke-width="1.25" stroke-linejoin="round"/>
<polyline points="0.0,496.0 7.8,501.9 13.7,496.4 19.5,506.8 27.3,500.9 35.2,501.9 41.0,498.0 48.8,506.2 56.6,505.4 62.5,512.6 72.3,506.2 79.1,518.5 85.9,501.9 89.8,497.6 97.7,501.9 105.5,497.6 111.3,502.9 117.2,516.5 125.0,510.7 132.8,482.3 136.7,490.2 142.6,513.6 150.4,510.7 160.2,471.6 171.9,496.0 179.7,494.0 188.5,482.3 195.3,495.0 200.0,499.0 205.9,510.7 211.7,507.7 216.6,512.6 221.5,493.1 226.4,482.3 233.2,486.2 239.0,498.0 243.0,509.3 251.8,488.2 258.6,497.6 270.3,509.3 274.2,506.2 283.0,486.2 289.8,489.8 297.7,480.4 306.4,474.1 315.2,486.2 325.0,483.9 338.7,467.1 344.5,471.6 350.4,492.1 358.2,517.9 364.0,505.8 370.0,500.9 377.7,485.9 385.5,488.2 393.4,497.0 400.0,487.2 405.9,473.6 411.7,464.4 417.6,464.4 427.3,463.8 433.2,472.6 439.0,483.3 446.9,491.1 454.7,496.0 460.5,504.8 466.4,516.5 474.2,517.1 478.1,518.5 489.8,503.8 496.7,507.7 504.5,474.5 511.3,476.9 524.0,494.0 534.8,469.6 544.5,488.2 554.3,511.6 560.2,515.9 571.9,513.2 579.7,510.7 588.5,500.9 595.3,508.7 600.0,503.8 605.9,489.8 615.6,487.2 622.5,512.6 633.2,507.7 644.0,485.3 650.8,506.8 658.6,486.2 670.3,477.5 678.1,499.0 683.0,505.8 693.8,470.6 701.6,473.6 708.4,480.0 717.2,474.5 723.0,467.7 728.9,471.6 740.6,499.9 752.3,512.6 758.2,512.6 766.0,494.0 771.9,476.5 780.7,467.1 787.5,475.5 794.3,490.2" fill="none" stroke="#f04a3a" stroke-width="0.85" stroke-linejoin="round"/>
<polyline points="0.0,494.0 4.9,504.8 8.8,499.9 12.7,490.2 14.6,499.0 17.6,507.7 21.5,504.8 25.4,500.9 29.3,505.4 32.2,500.9 36.1,495.0 39.0,499.0 46.9,508.1 52.7,503.8 58.6,510.7 64.5,511.6 70.3,503.8 75.2,517.5 78.1,519.8 82.0,509.7 86.9,497.6 91.8,497.0 95.7,501.9 99.6,499.9 105.5,497.0 109.4,499.9 115.2,517.5 121.1,512.6 125.0,498.0 129.9,478.0 133.8,481.4 139.6,514.6 144.5,513.6 148.4,511.6 156.2,468.7 160.2,471.6 166.0,484.3 172.9,499.9 177.7,494.0 183.6,490.2 187.5,474.5 191.4,497.0 195.3,494.0 200.0,504.8 202.9,511.6 208.8,506.8 212.7,508.7 215.6,517.1 218.6,503.8 223.4,479.4 227.3,484.3 233.2,487.2 237.1,497.0 242.0,514.0 246.9,490.2 249.8,484.3 254.7,496.0 258.6,497.0 262.5,500.9 268.4,511.6 273.2,507.3 280.0,483.9 285.9,491.1 290.8,484.3 295.7,480.4 301.6,478.4 304.5,473.6 308.4,472.2 313.3,488.2 319.1,482.3 324.0,487.2 328.9,483.3 336.7,466.3 340.6,467.7 345.5,476.5 350.4,499.9 355.3,519.5 359.2,516.5 363.1,500.9 367.0,504.2 370.9,493.1 375.8,484.7 383.6,489.2 387.5,486.2 390.4,499.0 395.3,496.4 400.0,481.4 403.9,469.6 409.8,464.4 413.7,462.8 417.6,465.2 423.4,463.2 428.3,464.8 432.2,476.5 436.1,486.6 439.0,483.3 443.0,487.2 445.9,495.6 447.9,491.7 451.8,493.1 454.7,501.5 457.6,500.9 462.5,510.7 465.4,517.5 470.3,517.1 476.2,520.4 484.0,506.8 488.9,501.9 492.8,507.7 495.7,508.7 500.6,473.6 503.5,475.5 506.4,473.6 511.3,480.4 515.2,483.3 520.1,495.0 523.0,495.0 527.0,481.4 531.8,467.7 534.8,470.6 540.6,486.2 545.5,502.9 550.4,508.7 554.3,513.6 560.2,517.1 564.0,513.2 569.9,514.0 575.8,511.6 581.6,510.7 585.5,500.9 588.5,499.9 594.3,511.6 600.0,494.0 603.9,488.6 607.8,489.2 611.7,486.2 615.6,488.2 619.5,513.6 625.4,510.7 629.3,510.7 635.2,498.0 641.4,480.4 644.9,492.1 648.8,511.2 652.7,494.0 656.6,485.3 660.5,487.2 664.5,480.4 668.4,475.5 673.2,491.1 678.1,503.8 682.0,505.4 685.9,497.0 690.8,469.1 695.7,472.2 701.6,474.5 706.4,481.4 713.3,476.5 720.1,467.7 726.0,469.6 729.9,474.5 736.7,501.9 740.6,503.4 743.6,501.9 748.4,512.0 754.3,513.2 759.2,511.6 764.0,491.1 768.0,475.5 775.8,467.1 779.7,466.7 785.5,473.6 789.5,484.3 794.3,492.1" fill="none" stroke="#3a3af0" stroke-width="0.85" stroke-linejoin="round"/>
<line x1="0" y1="64.5" x2="999" y2="64.5" stroke="#303030" stroke-width="0.9"/>
<line x1="838.3" y1="1" x2="838.3" y2="529" stroke="#303030" stroke-width="0.9"/>
<rect x="839.6" y="71.8" width="56.4" height="20.8" fill="#9a9a9a" opacity="0.55"/>
<rect x="838.4" y="70.6" width="56" height="20.4" fill="#ffffff" stroke="#cfcfcf" stroke-width="0.6"/>
<text x="842.2" y="79.1" style="font-family:'Liberation Sans',Arial,sans-serif;font-size:7.2px" fill="#a4a4a4" textLength="48.5" lengthAdjust="spacingAndGlyphs">Trendline 36275</text>
<text x="841.9" y="87.8" style="font-family:'Liberation Sans',Arial,sans-serif;font-size:7.2px" fill="#a4a4a4" textLength="23" lengthAdjust="spacingAndGlyphs">1166.34</text>
<path d="M847 67.2v8.2M841.2 72.6h11" stroke="#9a9a9a" stroke-width="2.2" opacity="0.6"/>
<path d="M847 67.2v8.2M841.2 72.6h11" stroke="#303030" stroke-width="1"/>
<rect x="815.1" y="49.2" width="45.3" height="29" rx="2" fill="#fff200" style="mix-blend-mode:multiply"/>
<rect x="792.8" y="37.5" width="97" height="37.7" rx="12" ry="6" fill="none" stroke="#ec1c24" stroke-width="1.3"/>
<path d="M847.8 82.7H860.5V109.8H867.3L854.3 136.1L841.5 109.8H847.8Z" fill="#ffffff" stroke="#e8141e" stroke-width="2" stroke-linejoin="miter"/>
<g fill="#7c7c7c">
<rect x="0" y="302.3" width="999" height="2"/>
<rect x="0" y="384.4" width="999" height="2"/>
<rect x="0" y="457.6" width="999" height="2"/>
</g>
<rect x="0" y="0.6" width="999" height="1" fill="#4a4a4a"/>
<rect x="0" y="525.8" width="999.5" height="0.9" fill="#4a4a4a"/>
<rect x="998.2" y="0.6" width="1.4" height="526" fill="#9a9a9a"/>
<rect x="0" y="0.6" width="1" height="526" fill="#a8a8a8"/>
<rect x="1022.6" y="0" width="1.4" height="539" fill="#a0a0a0"/>
<rect x="0" y="537.6" width="1024" height="1.4" fill="#101010"/>
<rect x="1022.8" y="112.5" width="1.2" height="5.6" fill="#111"/>
<rect x="1022.8" y="128.3" width="1.2" height="5.6" fill="#111"/>
<path d="M2.6 5.2h3.6l-1.8 2z" fill="#202020"/>
<text x="9.5" y="8.1" style="font-family:'Liberation Sans',Arial,sans-serif;font-size:5.4px" fill="#1a1a1a" stroke="#1a1a1a" stroke-width="0.22" textLength="24.5" lengthAdjust="spacingAndGlyphs">GOLD,H4</text>
<text x="37.8" y="8.1" style="font-family:'Liberation Sans',Arial,sans-serif;font-size:5.4px" fill="#1a1a1a" stroke="#1a1a1a" stroke-width="0.22" textLength="18.9" lengthAdjust="spacingAndGlyphs">1145.59</text>
<text x="59.3" y="8.1" style="font-family:'Liberation Sans',Arial,sans-serif;font-size:5.4px" fill="#1a1a1a" stroke="#1a1a1a" stroke-width="0.22" textLength="19.5" lengthAdjust="spacingAndGlyphs">1148.56</text>
<text x="80.7" y="8.1" style="font-family:'Liberation Sans',Arial,sans-serif;font-size:5.4px" fill="#1a1a1a" stroke="#1a1a1a" stroke-width="0.22" textLength="19.6" lengthAdjust="spacingAndGlyphs">1144.55</text>
<text x="102.8" y="8.1" style="font-family:'Liberation Sans',Arial,sans-serif;font-size:5.4px" fill="#1a1a1a" stroke="#1a1a1a" stroke-width="0.22" textLength="18.9" lengthAdjust="spacingAndGlyphs">1146.39</text>
<text x="2.8" y="311.2" style="font-family:'Liberation Sans',Arial,sans-serif;font-size:5.4px" fill="#1a1a1a" stroke="#1a1a1a" stroke-width="0.22" textLength="101.5" lengthAdjust="spacingAndGlyphs">MACD(12,26,9) 5.349 5.077 0.273 0.000</text>
<text x="2.7" y="393.8" style="font-family:'Liberation Sans',Arial,sans-serif;font-size:5.4px" fill="#1a1a1a" stroke="#1a1a1a" stroke-width="0.22" textLength="40.8" lengthAdjust="spacingAndGlyphs">RSI(14) 60.8148</text>
<text x="2.7" y="467.1" style="font-family:'Liberation Sans',Arial,sans-serif;font-size:5.4px" fill="#1a1a1a" stroke="#1a1a1a" stroke-width="0.22" textLength="73" lengthAdjust="spacingAndGlyphs">Stoch(8,3,3) 49.7040 52.9322</text>
<g>
<rect x="999.6" y="4.15" width="1.3" height="0.8" fill="#404040"/>
<text x="1002.4" y="6.55" style="font-family:'Liberation Sans',Arial,sans-serif;font-size:5.4px" fill="#1a1a1a" stroke="#1a1a1a" stroke-width="0.22" textLength="19.4" lengthAdjust="spacingAndGlyphs">1195.90</text>
<rect x="999.6" y="23.89" width="1.3" height="0.8" fill="#404040"/>
<text x="1002.4" y="26.29" style="font-family:'Liberation Sans',Arial,sans-serif;font-size:5.4px" fill="#1a1a1a" stroke="#1a1a1a" stroke-width="0.22" textLength="19.4" lengthAdjust="spacingAndGlyphs">1186.40</text>
<rect x="999.6" y="43.63" width="1.3" height="0.8" fill="#404040"/>
<text x="1002.4" y="46.03" style="font-family:'Liberation Sans',Arial,sans-serif;font-size:5.4px" fill="#1a1a1a" stroke="#1a1a1a" stroke-width="0.22" textLength="19.4" lengthAdjust="spacingAndGlyphs">1176.90</text>
<rect x="999.6" y="83.11" width="1.3" height="0.8" fill="#404040"/>
<text x="1002.4" y="85.51" style="font-family:'Liberation Sans',Arial,sans-serif;font-size:5.4px" fill="#1a1a1a" stroke="#1a1a1a" stroke-width="0.22" textLength="19.4" lengthAdjust="spacingAndGlyphs">1157.90</text>
<rect x="999.6" y="102.86" width="1.3" height="0.8" fill="#404040"/>
<text x="1002.4" y="105.25" style="font-family:'Liberation Sans',Arial,sans-serif;font-size:5.4px" fill="#1a1a1a" stroke="#1a1a1a" stroke-width="0.22" textLength="19.4" lengthAdjust="spacingAndGlyphs">1148.40</text>
<rect x="999.6" y="123.12" width="1.3" height="0.8" fill="#404040"/>
<text x="1002.4" y="125.52" style="font-family:'Liberation Sans',Arial,sans-serif;font-size:5.4px" fill="#1a1a1a" stroke="#1a1a1a" stroke-width="0.22" textLength="19.4" lengthAdjust="spacingAndGlyphs">1138.65</text>
<rect x="999.6" y="142.86" width="1.3" height="0.8" fill="#404040"/>
<text x="1002.4" y="145.26" style="font-family:'Liberation Sans',Arial,sans-serif;font-size:5.4px" fill="#1a1a1a" stroke="#1a1a1a" stroke-width="0.22" textLength="19.4" lengthAdjust="spacingAndGlyphs">1129.15</text>
<rect x="999.6" y="162.60" width="1.3" height="0.8" fill="#404040"/>
<text x="1002.4" y="165.00" style="font-family:'Liberation Sans',Arial,sans-serif;font-size:5.4px" fill="#1a1a1a" stroke="#1a1a1a" stroke-width="0.22" textLength="19.4" lengthAdjust="spacingAndGlyphs">1119.65</text>
<rect x="999.6" y="182.34" width="1.3" height="0.8" fill="#404040"/>
<text x="1002.4" y="184.74" style="font-family:'Liberation Sans',Arial,sans-serif;font-size:5.4px" fill="#1a1a1a" stroke="#1a1a1a" stroke-width="0.22" textLength="19.4" lengthAdjust="spacingAndGlyphs">1110.15</text>
<rect x="999.6" y="202.08" width="1.3" height="0.8" fill="#404040"/>
<text x="1002.4" y="204.48" style="font-family:'Liberation Sans',Arial,sans-serif;font-size:5.4px" fill="#1a1a1a" stroke="#1a1a1a" stroke-width="0.22" textLength="19.4" lengthAdjust="spacingAndGlyphs">1100.65</text>
<rect x="999.6" y="221.82" width="1.3" height="0.8" fill="#404040"/>
<text x="1002.4" y="224.22" style="font-family:'Liberation Sans',Arial,sans-serif;font-size:5.4px" fill="#1a1a1a" stroke="#1a1a1a" stroke-width="0.22" textLength="19.4" lengthAdjust="spacingAndGlyphs">1091.15</text>
<rect x="999.6" y="241.56" width="1.3" height="0.8" fill="#404040"/>
<text x="1002.4" y="243.96" style="font-family:'Liberation Sans',Arial,sans-serif;font-size:5.4px" fill="#1a1a1a" stroke="#1a1a1a" stroke-width="0.22" textLength="19.4" lengthAdjust="spacingAndGlyphs">1081.65</text>
<rect x="999.6" y="261.30" width="1.3" height="0.8" fill="#404040"/>
<text x="1002.4" y="263.70" style="font-family:'Liberation Sans',Arial,sans-serif;font-size:5.4px" fill="#1a1a1a" stroke="#1a1a1a" stroke-width="0.22" textLength="19.4" lengthAdjust="spacingAndGlyphs">1072.15</text>
<rect x="999.6" y="281.04" width="1.3" height="0.8" fill="#404040"/>
<text x="1002.4" y="283.44" style="font-family:'Liberation Sans',Arial,sans-serif;font-size:5.4px" fill="#1a1a1a" stroke="#1a1a1a" stroke-width="0.22" textLength="19.4" lengthAdjust="spacingAndGlyphs">1062.65</text>
<rect x="999.6" y="300.78" width="1.3" height="0.8" fill="#404040"/>
<text x="1002.4" y="303.18" style="font-family:'Liberation Sans',Arial,sans-serif;font-size:5.4px" fill="#1a1a1a" stroke="#1a1a1a" stroke-width="0.22" textLength="19.4" lengthAdjust="spacingAndGlyphs">1053.15</text>
</g>
<rect x="1000" y="61.2" width="22.8" height="6.2" fill="#000000"/>
<text x="1001.6" y="66.2" style="font-family:'Liberation Sans',Arial,sans-serif;font-size:5.4px" fill="#ffffff" textLength="19.6" lengthAdjust="spacingAndGlyphs">1166.91</text>
<rect x="1000" y="103.7" width="22.8" height="6.2" fill="#000000"/>
<text x="1001.6" y="108.7" style="font-family:'Liberation Sans',Arial,sans-serif;font-size:5.4px" fill="#ffffff" textLength="19.6" lengthAdjust="spacingAndGlyphs">1146.39</text>
<text x="1001.2" y="310.4" style="font-family:'Liberation Sans',Arial,sans-serif;font-size:5.4px" fill="#1a1a1a" stroke="#1a1a1a" stroke-width="0.22">12.314</text>
<text x="1001.2" y="342.8" style="font-family:'Liberation Sans',Arial,sans-serif;font-size:5.4px" fill="#1a1a1a" stroke="#1a1a1a" stroke-width="0.22">0.00</text>
<text x="1001.2" y="382.6" style="font-family:'Liberation Sans',Arial,sans-serif;font-size:5.4px" fill="#1a1a1a" stroke="#1a1a1a" stroke-width="0.22">-14.772</text>
<text x="1001.2" y="392.3" style="font-family:'Liberation Sans',Arial,sans-serif;font-size:5.4px" fill="#1a1a1a" stroke="#1a1a1a" stroke-width="0.22">100</text>
<text x="1001.2" y="402.7" style="font-family:'Liberation Sans',Arial,sans-serif;font-size:5.4px" fill="#1a1a1a" stroke="#1a1a1a" stroke-width="0.22">80</text>
<text x="1001.2" y="423.9" style="font-family:'Liberation Sans',Arial,sans-serif;font-size:5.4px" fill="#1a1a1a" stroke="#1a1a1a" stroke-width="0.22">50</text>
<text x="1001.2" y="445.4" style="font-family:'Liberation Sans',Arial,sans-serif;font-size:5.4px" fill="#1a1a1a" stroke="#1a1a1a" stroke-width="0.22">20</text>
<text x="1001.2" y="455.9" style="font-family:'Liberation Sans',Arial,sans-serif;font-size:5.4px" fill="#1a1a1a" stroke="#1a1a1a" stroke-width="0.22">0</text>
<text x="1001.2" y="465.4" style="font-family:'Liberation Sans',Arial,sans-serif;font-size:5.4px" fill="#1a1a1a" stroke="#1a1a1a" stroke-width="0.22">100</text>
<text x="1001.2" y="475.0" style="font-family:'Liberation Sans',Arial,sans-serif;font-size:5.4px" fill="#1a1a1a" stroke="#1a1a1a" stroke-width="0.22">80</text>
<text x="1001.2" y="514.3" style="font-family:'Liberation Sans',Arial,sans-serif;font-size:5.4px" fill="#1a1a1a" stroke="#1a1a1a" stroke-width="0.22">20</text>
<text x="1001.2" y="523.8" style="font-family:'Liberation Sans',Arial,sans-serif;font-size:5.4px" fill="#1a1a1a" stroke="#1a1a1a" stroke-width="0.22">0</text>
<rect x="999.6" y="340.45" width="1.3" height="0.8" fill="#404040"/>
<rect x="999.6" y="400.35" width="1.3" height="0.8" fill="#404040"/>
<rect x="999.6" y="421.55" width="1.3" height="0.8" fill="#404040"/>
<rect x="999.6" y="443.05" width="1.3" height="0.8" fill="#404040"/>
<rect x="999.6" y="472.65" width="1.3" height="0.8" fill="#404040"/>
<rect x="999.6" y="511.95" width="1.3" height="0.8" fill="#404040"/>
<text x="0.4" y="533.9" style="font-family:'Liberation Sans',Arial,sans-serif;font-size:5.4px" fill="#1a1a1a" stroke="#1a1a1a" stroke-width="0.22">10 Jul 2015</text>
<rect x="37.70" y="526.5" width="0.9" height="2" fill="#404040"/>
<text x="38.90" y="533.9" style="font-family:'Liberation Sans',Arial,sans-serif;font-size:5.4px" fill="#1a1a1a" stroke="#1a1a1a" stroke-width="0.22">15 Jul 01:00</text>
<rect x="76.01" y="526.5" width="0.9" height="2" fill="#404040"/>
<text x="77.21" y="533.9" style="font-family:'Liberation Sans',Arial,sans-serif;font-size:5.4px" fill="#1a1a1a" stroke="#1a1a1a" stroke-width="0.22">17 Jul 17:00</text>
<rect x="114.32" y="526.5" width="0.9" height="2" fill="#404040"/>
<text x="115.52" y="533.9" style="font-family:'Liberation Sans',Arial,sans-serif;font-size:5.4px" fill="#1a1a1a" stroke="#1a1a1a" stroke-width="0.22">22 Jul 09:00</text>
<rect x="152.63" y="526.5" width="0.9" height="2" fill="#404040"/>
<text x="153.83" y="533.9" style="font-family:'Liberation Sans',Arial,sans-serif;font-size:5.4px" fill="#1a1a1a" stroke="#1a1a1a" stroke-width="0.22">27 Jul 01:00</text>
<rect x="190.94" y="526.5" width="0.9" height="2" fill="#404040"/>
<text x="192.14" y="533.9" style="font-family:'Liberation Sans',Arial,sans-serif;font-size:5.4px" fill="#1a1a1a" stroke="#1a1a1a" stroke-width="0.22">29 Jul 17:00</text>
<rect x="229.25" y="526.5" width="0.9" height="2" fill="#404040"/>
<text x="230.45" y="533.9" style="font-family:'Liberation Sans',Arial,sans-serif;font-size:5.4px" fill="#1a1a1a" stroke="#1a1a1a" stroke-width="0.22">3 Aug 09:00</text>
<rect x="267.56" y="526.5" width="0.9" height="2" fill="#404040"/>
<text x="268.76" y="533.9" style="font-family:'Liberation Sans',Arial,sans-serif;font-size:5.4px" fill="#1a1a1a" stroke="#1a1a1a" stroke-width="0.22">6 Aug 01:00</text>
<rect x="305.87" y="526.5" width="0.9" height="2" fill="#404040"/>
<text x="307.07" y="533.9" style="font-family:'Liberation Sans',Arial,sans-serif;font-size:5.4px" fill="#1a1a1a" stroke="#1a1a1a" stroke-width="0.22">10 Aug 17:00</text>
<rect x="344.18" y="526.5" width="0.9" height="2" fill="#404040"/>
<text x="345.38" y="533.9" style="font-family:'Liberation Sans',Arial,sans-serif;font-size:5.4px" fill="#1a1a1a" stroke="#1a1a1a" stroke-width="0.22">13 Aug 09:00</text>
<rect x="382.49" y="526.5" width="0.9" height="2" fill="#404040"/>
<text x="383.69" y="533.9" style="font-family:'Liberation Sans',Arial,sans-serif;font-size:5.4px" fill="#1a1a1a" stroke="#1a1a1a" stroke-width="0.22">18 Aug 01:00</text>
<rect x="420.80" y="526.5" width="0.9" height="2" fill="#404040"/>
<text x="422.00" y="533.9" style="font-family:'Liberation Sans',Arial,sans-serif;font-size:5.4px" fill="#1a1a1a" stroke="#1a1a1a" stroke-width="0.22">20 Aug 17:00</text>
<rect x="459.11" y="526.5" width="0.9" height="2" fill="#404040"/>
<text x="460.31" y="533.9" style="font-family:'Liberation Sans',Arial,sans-serif;font-size:5.4px" fill="#1a1a1a" stroke="#1a1a1a" stroke-width="0.22">25 Aug 09:00</text>
<rect x="497.42" y="526.5" width="0.9" height="2" fill="#404040"/>
<text x="498.62" y="533.9" style="font-family:'Liberation Sans',Arial,sans-serif;font-size:5.4px" fill="#1a1a1a" stroke="#1a1a1a" stroke-width="0.22">28 Aug 01:00</text>
<rect x="535.73" y="526.5" width="0.9" height="2" fill="#404040"/>
<text x="536.93" y="533.9" style="font-family:'Liberation Sans',Arial,sans-serif;font-size:5.4px" fill="#1a1a1a" stroke="#1a1a1a" stroke-width="0.22">1 Sep 17:00</text>
<rect x="574.04" y="526.5" width="0.9" height="2" fill="#404040"/>
<text x="575.24" y="533.9" style="font-family:'Liberation Sans',Arial,sans-serif;font-size:5.4px" fill="#1a1a1a" stroke="#1a1a1a" stroke-width="0.22">4 Sep 09:00</text>
<rect x="612.35" y="526.5" width="0.9" height="2" fill="#404040"/>
<text x="613.55" y="533.9" style="font-family:'Liberation Sans',Arial,sans-serif;font-size:5.4px" fill="#1a1a1a" stroke="#1a1a1a" stroke-width="0.22">9 Sep 05:00</text>
<rect x="650.66" y="526.5" width="0.9" height="2" fill="#404040"/>
<text x="651.86" y="533.9" style="font-family:'Liberation Sans',Arial,sans-serif;font-size:5.4px" fill="#1a1a1a" stroke="#1a1a1a" stroke-width="0.22">11 Sep 21:00</text>
<rect x="688.97" y="526.5" width="0.9" height="2" fill="#404040"/>
<text x="690.17" y="533.9" style="font-family:'Liberation Sans',Arial,sans-serif;font-size:5.4px" fill="#1a1a1a" stroke="#1a1a1a" stroke-width="0.22">16 Sep 13:00</text>
<rect x="727.28" y="526.5" width="0.9" height="2" fill="#404040"/>
<text x="728.48" y="533.9" style="font-family:'Liberation Sans',Arial,sans-serif;font-size:5.4px" fill="#1a1a1a" stroke="#1a1a1a" stroke-width="0.22">21 Sep 05:00</text>
<rect x="765.59" y="526.5" width="0.9" height="2" fill="#404040"/>
<text x="766.79" y="533.9" style="font-family:'Liberation Sans',Arial,sans-serif;font-size:5.4px" fill="#1a1a1a" stroke="#1a1a1a" stroke-width="0.22">23 Sep 21:00</text>
<rect x="814" y="528.6" width="48" height="6.3" fill="#000000"/>
<text x="815.5" y="533.8" style="font-family:'Liberation Sans',Arial,sans-serif;font-size:5.4px" fill="#ffffff" textLength="45" lengthAdjust="spacingAndGlyphs">2015.09.28 21:00</text>
<path d="M863 537A10.3 10.3 0 0 1 883.6 537Z" fill="#fff3c0" opacity="0.9"/>
</svg>
</body></html>
